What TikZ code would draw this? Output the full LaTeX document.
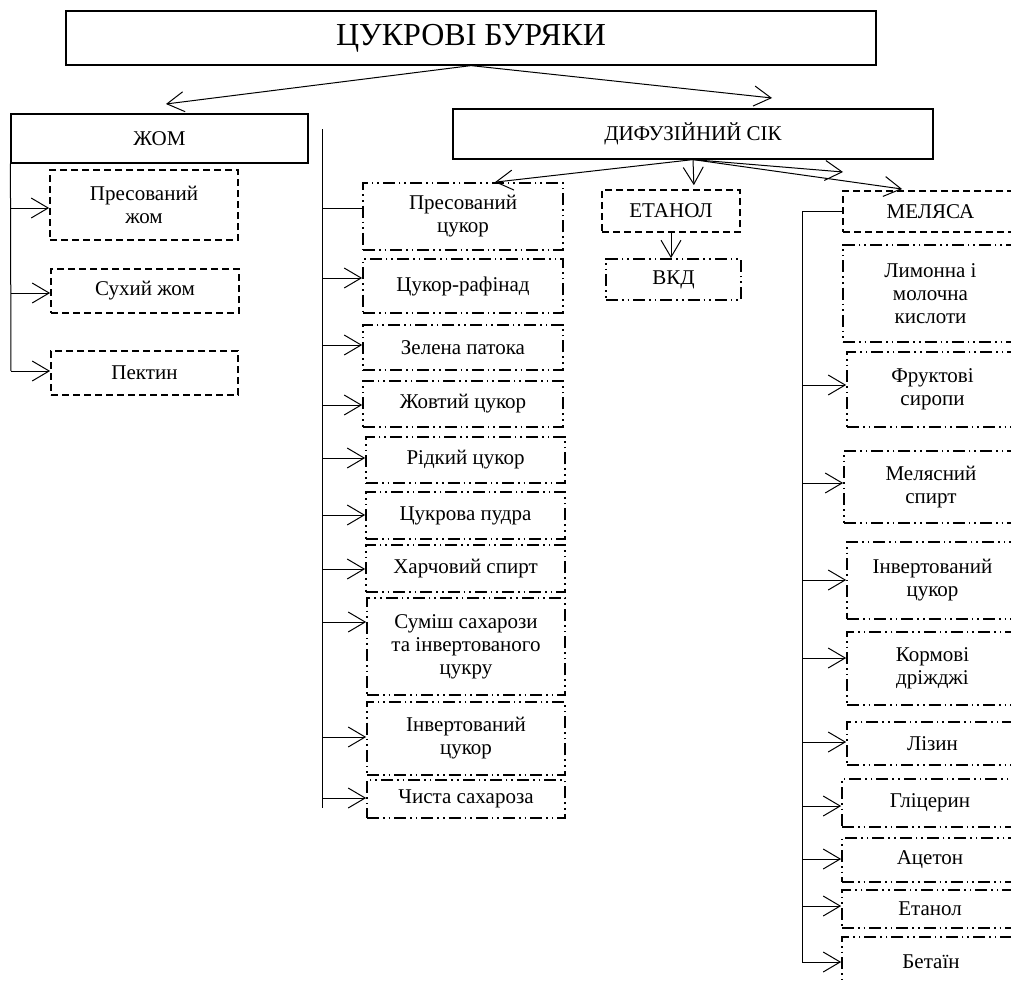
\documentclass[tikz,border=0pt]{standalone}
\usepackage{fontspec}
\setmainfont{Liberation Serif}
\usetikzlibrary{arrows.meta}
\newcommand{\boxat}[7]{%
  \pgfmathsetmacro\cxx{(#3+#5)/2}\pgfmathsetmacro\cyy{(#4+#6)/2}%
  \pgfmathsetmacro\www{#5-#3}\pgfmathsetmacro\hhh{#6-#4}%
  \node[#2, minimum width=\www pt, minimum height=\hhh pt] (#1) at (\cxx,\cyy) {#7};}
\begin{document}
\begin{tikzpicture}[x=1pt,y=-1pt,
  base/.style={inner sep=0pt, align=center, font=\fontsize{21}{23}\selectfont},
  solidbox/.style={base, draw, line width=1.2pt},
  dashbox/.style={base, draw, line width=1.7pt, dash pattern=on 7pt off 4pt},
  ddbox/.style={base, draw, line width=1.7pt, dash pattern=on 12pt off 4pt on 1.6pt off 4pt on 1.6pt off 4pt},
  lbl/.style={inner sep=0pt, align=center, font=\fontsize{21}{23}\selectfont},
  arr/.style={line width=1pt, -{Straight Barb[length=17pt,width=20pt,line width=1pt]}},
  ln/.style={line width=1pt}]
\useasboundingbox (0,0) rectangle (1011,982);
\clip (0,0) rectangle (1011,982);
% top level
\boxat{top}{solidbox, font=\fontsize{32}{36}\selectfont}{66}{11}{876}{65}{ЦУКРОВІ БУРЯКИ}
\boxat{zhom}{solidbox}{11}{114}{308}{163}{ЖОМ}
\boxat{dif}{solidbox}{453}{109}{933}{159}{ДИФУЗІЙНИЙ СІК}
\draw[arr] (top.south) -- (166,104);
\draw[arr] (top.south) -- (772,98);
% left column
\boxat{z1}{dashbox}{50}{170}{238}{240}{Пресований\\жом}
\boxat{z2}{dashbox}{51}{269}{239}{313}{Сухий жом}
\boxat{z3}{dashbox}{51}{351}{238}{395}{Пектин}
\coordinate (zb) at (11,371);
\draw[ln] (zhom.south west) -- (zb);
\draw[arr] (11,208) -- (z1.west |- 0,208);
\draw[arr] (11,293) -- (z2.west |- 0,293);
\draw[arr] (zb) -- (z3.west |- 0,371);
% middle column
\boxat{m1}{ddbox}{363}{183}{563}{250}{Пресований\\цукор}
\boxat{m2}{ddbox}{363}{259}{563}{313}{Цукор-рафінад}
\boxat{m3}{ddbox}{363}{325}{563}{370}{Зелена патока}
\boxat{m4}{ddbox}{363}{381}{563}{427}{Жовтий цукор}
\boxat{m5}{ddbox}{366}{437}{565}{483}{Рідкий цукор}
\boxat{m6}{ddbox}{366}{492}{565}{539}{Цукрова пудра}
\boxat{m7}{ddbox}{366}{545}{565}{592}{Харчовий спирт}
\boxat{m8}{ddbox}{367}{598}{565}{695}{Суміш сахарози\\та інвертованого\\цукру}
\boxat{m9}{ddbox}{367}{702}{565}{775}{Інвертований\\цукор}
\boxat{m10}{ddbox}{367}{780}{565}{818}{Чиста сахароза}
\coordinate (mt) at (322,129);
\coordinate (mb) at (322,808);
\draw[ln] (mt) -- (mb);
\draw[ln] (322,208) -- (m1.west |- 0,208);
\draw[arr] (322,278) -- (m2.west |- 0,278);
\draw[arr] (322,345) -- (m3.west |- 0,345);
\draw[arr] (322,405) -- (m4.west |- 0,405);
\draw[arr] (322,458) -- (m5.west |- 0,458);
\draw[arr] (322,515) -- (m6.west |- 0,515);
\draw[arr] (322,569) -- (m7.west |- 0,569);
\draw[arr] (322,622) -- (m8.west |- 0,622);
\draw[arr] (322,737) -- (m9.west |- 0,737);
\draw[arr] (322,798) -- (m10.west |- 0,798);
% ethanol
\boxat{et}{dashbox}{602}{190}{740}{232}{ЕТАНОЛ}
\boxat{vkd}{ddbox}{606}{259}{741}{300}{ВКД}
\draw[arr] (et.south -| 671,0) -- (vkd.north -| 671,0);
% diffusion arrows
\coordinate (fr) at (843,172);
\draw[arr] (dif.south) -- (m1.north -| 495,0);
\draw[arr, shorten >=4pt] (dif.south) -- (et.north -| 694,0);
\draw[arr] (dif.south) -- (fr);
% right column
\boxat{mel}{dashbox}{843}{191}{1018}{232}{МЕЛЯСА}
\draw[arr, shorten >=8pt] (dif.south) -- (mel.north -| 910,0);
\boxat{r1}{ddbox}{843}{245}{1018}{342}{Лимонна і\\молочна\\кислоти}
\boxat{r2}{ddbox}{847}{352}{1018}{427}{Фруктові\\сиропи}
\boxat{r3}{ddbox}{844}{451}{1018}{523}{Мелясний\\спирт}
\boxat{r4}{ddbox}{847}{542}{1018}{619}{Інвертований\\цукор}
\boxat{r5}{ddbox}{847}{632}{1018}{705}{Кормові\\дріжджі}
\boxat{r6}{ddbox}{847}{722}{1018}{765}{Лізин}
\boxat{r7}{ddbox}{842}{779}{1018}{827}{Гліцерин}
\boxat{r8}{ddbox}{842}{838}{1018}{882}{Ацетон}
\boxat{r9}{ddbox}{842}{890}{1018}{928}{Етанол}
\boxat{r10}{ddbox}{842}{937}{1018}{1000}{}
\node[lbl] (r10t) at (931,962) {Бетаїн};
\coordinate (rb) at (802,962);
\draw[ln] (mel.west) -| (rb);
\draw[arr] (802,385) -- (r2.west |- 0,385);
\draw[arr] (802,483) -- (r3.west |- 0,483);
\draw[arr] (802,580) -- (r4.west |- 0,580);
\draw[arr] (802,658) -- (r5.west |- 0,658);
\draw[arr] (802,742) -- (r6.west |- 0,742);
\draw[arr] (802,806) -- (r7.west |- 0,806);
\draw[arr] (802,859) -- (r8.west |- 0,859);
\draw[arr] (802,906) -- (r9.west |- 0,906);
\draw[arr] (rb) -- (r10.west |- 0,962);
\end{tikzpicture}
\end{document}
